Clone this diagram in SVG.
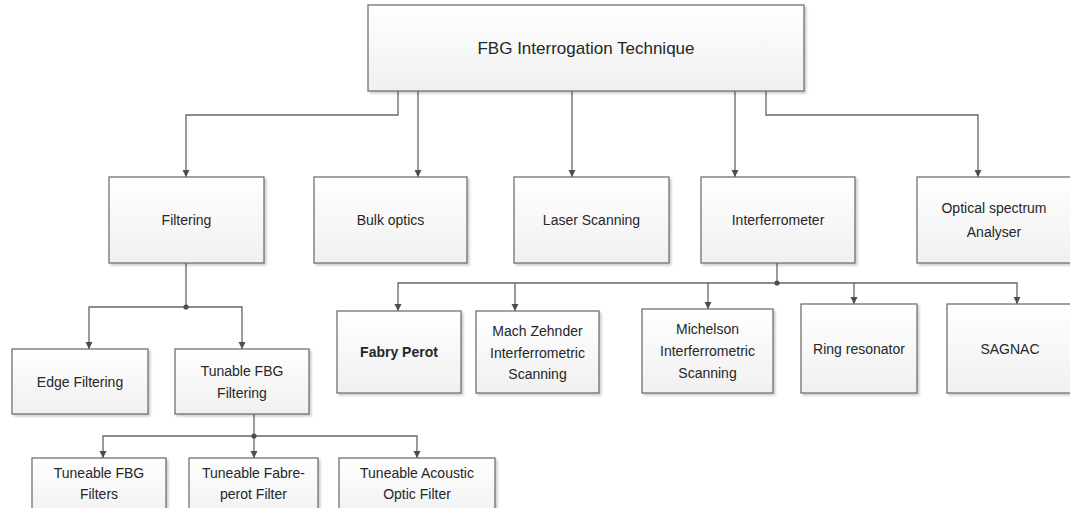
<svg xmlns="http://www.w3.org/2000/svg" width="1070" height="508" viewBox="0 0 1070 508">
  <defs>
    <linearGradient id="boxFill" x1="0" y1="0" x2="0" y2="1">
      <stop offset="0" stop-color="#ffffff"/>
      <stop offset="1" stop-color="#f0f0f0"/>
    </linearGradient>
    <marker id="arrow" markerUnits="userSpaceOnUse" markerWidth="8" markerHeight="8" refX="7" refY="4" orient="auto">
      <path d="M0,0.5 L7,4 L0,7.5 z" fill="#4d4d4d"/>
    </marker>
    <filter id="shadow" x="-5%" y="-5%" width="115%" height="120%">
      <feGaussianBlur in="SourceAlpha" stdDeviation="1"/>
      <feOffset dx="2" dy="2" result="b"/>
      <feComponentTransfer><feFuncA type="linear" slope="0.2"/></feComponentTransfer>
      <feMerge><feMergeNode/><feMergeNode in="SourceGraphic"/></feMerge>
    </filter>
  </defs>
  <style>
    .box { fill: url(#boxFill); stroke: #666666; stroke-width: 1.2; filter: url(#shadow); }
    .lbl { font-family: "Liberation Sans", Arial, sans-serif; font-size: 14px; fill: #262626; text-anchor: middle; dominant-baseline: central; }
    .title { font-size: 17px; }
    .bold { font-weight: bold; }
    .wire { fill: none; stroke: #666666; stroke-width: 1.3; }
    .arr { marker-end: url(#arrow); }
    .dot { fill: #4d4d4d; }
  </style>

  <rect width="1070" height="508" fill="#ffffff"/>

  <!-- connectors -->
  <g id="connectors">
    <path class="wire arr" d="M398,91 V115 H186 V177"/>
    <path class="wire arr" d="M418,91 V177"/>
    <path class="wire arr" d="M572,91 V177"/>
    <path class="wire arr" d="M735,91 V177"/>
    <path class="wire arr" d="M766,91 V115 H978 V177"/>

    <path class="wire" d="M186,263 V307"/>
    <path class="wire arr" d="M186,307 H89 V349"/>
    <path class="wire arr" d="M186,307 H242 V349"/>
    <circle class="dot" cx="186" cy="307" r="2.6"/>

    <path class="wire" d="M777,263 V283"/>
    <path class="wire arr" d="M777,283 H398 V311"/>
    <path class="wire arr" d="M515,283 V311"/>
    <path class="wire arr" d="M708,283 V309"/>
    <path class="wire arr" d="M777,283 H1017 V304"/>
    <path class="wire arr" d="M854,283 V304"/>
    <circle class="dot" cx="777" cy="283" r="2.6"/>

    <path class="wire" d="M254,414 V436"/>
    <path class="wire arr" d="M254,436 H103 V458"/>
    <path class="wire arr" d="M254,436 V458"/>
    <path class="wire arr" d="M254,436 H417 V458"/>
    <circle class="dot" cx="254" cy="436" r="2.6"/>
  </g>

  <!-- nodes -->
  <g id="fbg-interrogation">
    <rect class="box" x="368" y="5" width="436" height="86"/>
    <text class="lbl title" x="586" y="48">FBG Interrogation Technique</text>
  </g>

  <g id="filtering">
    <rect class="box" x="109" y="177" width="155" height="86"/>
    <text class="lbl" x="186.5" y="220">Filtering</text>
  </g>
  <g id="bulk-optics">
    <rect class="box" x="314" y="177" width="153" height="86"/>
    <text class="lbl" x="390.5" y="220">Bulk optics</text>
  </g>
  <g id="laser-scanning">
    <rect class="box" x="514" y="177" width="155" height="86"/>
    <text class="lbl" x="591.5" y="220">Laser Scanning</text>
  </g>
  <g id="interferometer">
    <rect class="box" x="701" y="177" width="154" height="86"/>
    <text class="lbl" x="778" y="220">Interferrometer</text>
  </g>
  <g id="optical-spectrum-analyser">
    <rect class="box" x="917" y="177" width="155" height="86"/>
    <text class="lbl" x="994" y="208">Optical spectrum</text>
    <text class="lbl" x="994" y="232">Analyser</text>
  </g>

  <g id="edge-filtering">
    <rect class="box" x="12" y="349" width="136" height="65"/>
    <text class="lbl" x="80" y="382">Edge Filtering</text>
  </g>
  <g id="tunable-fbg-filtering">
    <rect class="box" x="175" y="349" width="134" height="65"/>
    <text class="lbl" x="242" y="371">Tunable FBG</text>
    <text class="lbl" x="242" y="393">Filtering</text>
  </g>

  <g id="fabry-perot">
    <rect class="box" x="337" y="311" width="124" height="82"/>
    <text class="lbl bold" x="399" y="352">Fabry Perot</text>
  </g>
  <g id="mach-zehnder">
    <rect class="box" x="476" y="311" width="123" height="82"/>
    <text class="lbl" x="537.5" y="331">Mach Zehnder</text>
    <text class="lbl" x="537.5" y="352.5">Interferrometric</text>
    <text class="lbl" x="537.5" y="374">Scanning</text>
  </g>
  <g id="michelson">
    <rect class="box" x="642" y="309" width="131" height="84"/>
    <text class="lbl" x="707.5" y="329">Michelson</text>
    <text class="lbl" x="707.5" y="351">Interferrometric</text>
    <text class="lbl" x="707.5" y="373">Scanning</text>
  </g>
  <g id="ring-resonator">
    <rect class="box" x="801" y="304" width="116" height="89"/>
    <text class="lbl" x="859" y="349">Ring resonator</text>
  </g>
  <g id="sagnac">
    <rect class="box" x="947" y="304" width="130" height="89"/>
    <text class="lbl" x="1010" y="349">SAGNAC</text>
  </g>

  <g id="tuneable-fbg-filters">
    <rect class="box" x="32" y="458" width="134" height="62"/>
    <text class="lbl" x="99" y="473">Tuneable FBG</text>
    <text class="lbl" x="99" y="494">Filters</text>
  </g>
  <g id="tuneable-fabre-perot">
    <rect class="box" x="189" y="458" width="129" height="62"/>
    <text class="lbl" x="253.5" y="473">Tuneable Fabre-</text>
    <text class="lbl" x="253.5" y="494">perot Filter</text>
  </g>
  <g id="tuneable-acoustic-optic">
    <rect class="box" x="339" y="458" width="156" height="62"/>
    <text class="lbl" x="417" y="473">Tuneable Acoustic</text>
    <text class="lbl" x="417" y="494">Optic Filter</text>
  </g>
</svg>
